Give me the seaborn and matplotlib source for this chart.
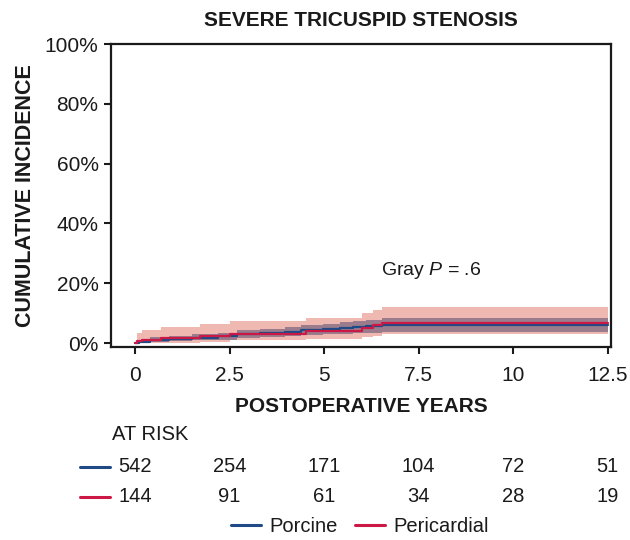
import numpy as np
import pandas as pd
import matplotlib
matplotlib.use("Agg")
import matplotlib.pyplot as plt
import matplotlib.transforms as mtransforms
from matplotlib.lines import Line2D
import seaborn as sns

# ---------------- data ----------------
groups = ["Porcine", "Pericardial"]

porcine_t = [0, 0.1, 0.4, 0.9, 1.5, 2.2, 2.7, 3.3, 3.96, 4.4, 4.97, 5.42, 5.77, 6.1, 6.53, 12.5]
porcine_v = [0, 0.5, 1.0, 1.4, 1.8, 2.3, 2.9, 3.3, 3.8, 4.3, 4.7, 5.1, 5.4, 5.7, 6.0, 6.0]
porcine_lo = [0, 0.1, 0.4, 0.6, 0.9, 1.2, 1.6, 2.0, 2.4, 2.7, 3.0, 3.2, 3.4, 3.5, 3.7, 3.7]
porcine_hi = [0, 1.2, 1.9, 2.4, 2.9, 3.5, 4.3, 4.8, 5.4, 5.9, 6.4, 6.9, 7.3, 7.7, 8.3, 8.3]

peri_t = [0, 0.05, 0.17, 0.69, 1.71, 2.5, 4.53, 6.0, 6.29, 6.53, 12.5]
peri_v = [0, 0.8, 1.2, 1.8, 2.4, 3.2, 4.1, 5.1, 5.9, 6.8, 6.8]
peri_lo = [0, 0, 0, 0.2, 0.5, 0.9, 1.4, 2.0, 2.4, 2.9, 2.9]
peri_hi = [0, 3.3, 4.3, 5.3, 6.3, 7.3, 8.5, 9.9, 11.0, 12.1, 12.1]

x_ticks = [0, 2.5, 5, 7.5, 10, 12.5]
x_tick_labels = ["0", "2.5", "5", "7.5", "10", "12.5"]
y_ticks = [0, 20, 40, 60, 80, 100]
y_tick_labels = ["0%", "20%", "40%", "60%", "80%", "100%"]

at_risk_porcine = [542, 254, 171, 104, 72, 51]
at_risk_pericardial = [144, 91, 61, 34, 28, 19]

title = "SEVERE TRICUSPID STENOSIS"
xlabel = "POSTOPERATIVE YEARS"
ylabel = "CUMULATIVE INCIDENCE"
annot = "Gray $P$ = .6"

# ---------------- style ----------------
sns.set_style("ticks")
plt.rcParams["font.family"] = ["Liberation Sans", "DejaVu Sans"]
plt.rcParams["mathtext.fontset"] = "custom"
plt.rcParams["mathtext.rm"] = "Liberation Sans"
plt.rcParams["mathtext.it"] = "Liberation Sans:italic"

BLUE = "#1f4a85"
RED = "#cc1845"
SALMON = "#efb9b1"
PURPLE = "#46416a"
TXT = "#1a1a1a"
FS = 14.5

W, H = 630, 540
fig = plt.figure(figsize=(W / 100, H / 100), dpi=100)
ax = fig.add_axes([111 / W, 1 - 347 / H, 500 / W, 303 / H])

df = pd.concat([
    pd.DataFrame({"time": porcine_t, "pct": porcine_v, "group": groups[0]}),
    pd.DataFrame({"time": peri_t, "pct": peri_v, "group": groups[1]}),
], ignore_index=True)

# confidence bands
ax.fill_between(peri_t, peri_lo, peri_hi, step="post", color=SALMON, lw=0, zorder=1)
ax.fill_between(porcine_t, porcine_lo, porcine_hi, step="post", color=PURPLE, alpha=0.5, lw=0, zorder=2)

sns.lineplot(data=df, x="time", y="pct", hue="group", hue_order=groups,
             palette={groups[0]: BLUE, groups[1]: RED}, drawstyle="steps-post",
             estimator=None, legend=False, lw=1.6, ax=ax, zorder=3)

ax.set_xlim(-0.64, 12.59)
ax.set_ylim(-1.3, 100)
ax.set_xticks(x_ticks)
ax.set_xticklabels(x_tick_labels)
ax.set_yticks(y_ticks)
ax.set_yticklabels(y_tick_labels)
ax.tick_params(axis="both", direction="out", length=5, width=1.5, labelsize=15,
               colors=TXT)
ax.tick_params(axis="x", pad=9)
ax.tick_params(axis="y", pad=4)
ax.tick_params(top=False, right=False)
for s in ax.spines.values():
    s.set_visible(True)
    s.set_linewidth(1.6)
    s.set_color(TXT)

ax.set_xlabel(xlabel, fontsize=15, fontweight="bold", color=TXT, labelpad=8)
ax.set_ylabel(ylabel, fontsize=15.5, fontweight="bold", color=TXT, labelpad=6)
ax.set_title(title, fontsize=15, fontweight="bold", color=TXT, pad=13)

ax.text(6.51, 24.3, annot, fontsize=14, color=TXT, ha="left", va="center")

# ---------------- at-risk table ----------------
def fx(px):
    return px / W

def fy(py):
    return 1 - py / H

blend = mtransforms.blended_transform_factory(ax.transData, fig.transFigure)

fig.text(fx(112), fy(435), "AT RISK", fontsize=FS, color=TXT, ha="left", va="center")
for row_y, vals, col in [(466.7, at_risk_porcine, BLUE), (496.7, at_risk_pericardial, RED)]:
    fig.add_artist(Line2D([fx(80), fx(110)], [fy(row_y), fy(row_y)], color=col, lw=2.2,
                          transform=fig.transFigure))
    for xt, v in zip(x_ticks, vals):
        ax.text(xt, fy(row_y), str(v), fontsize=FS, color=TXT, ha="center", va="center",
                transform=blend, clip_on=False)

handles = [Line2D([], [], color=BLUE, lw=2.2), Line2D([], [], color=RED, lw=2.2)]
fig.legend(handles, groups, loc="center", bbox_to_anchor=(fx(360), fy(527)), ncol=2,
           frameon=False, fontsize=FS, handlelength=1.5, handletextpad=0.4,
           columnspacing=0.85, labelcolor=TXT, borderpad=0, borderaxespad=0)

fig.savefig("out.png", dpi=100)
